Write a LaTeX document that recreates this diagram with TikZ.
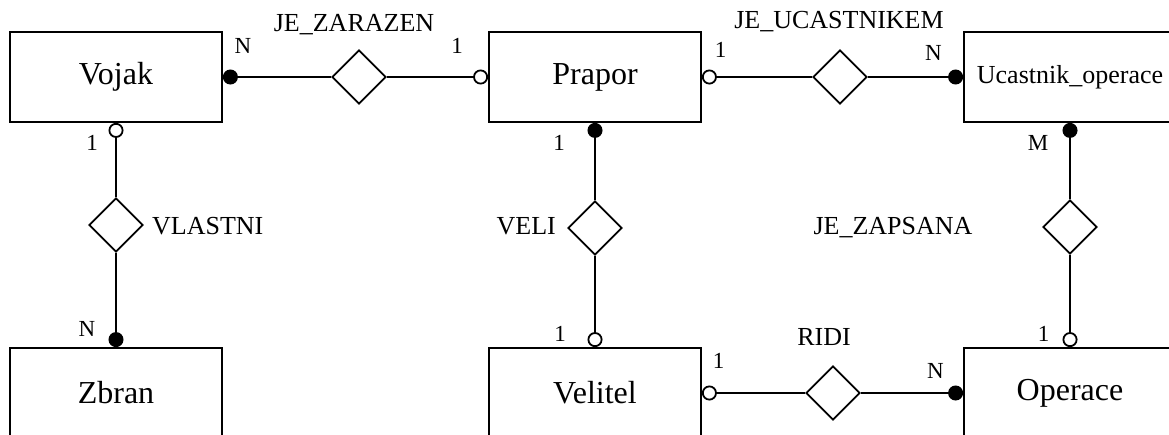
\documentclass[tikz,border=0pt]{standalone}
\usepackage{fontspec}
\setmainfont{Liberation Serif}
\usetikzlibrary{shapes.geometric,arrows.meta}
\tikzset{
  entity/.style={draw, line width=1.8pt, minimum width=212pt, minimum height=90pt, inner sep=0pt, font=\fontsize{32}{38}\selectfont},
  relship/.style={draw, fill=white, diamond, aspect=1, minimum size=54pt, inner sep=0pt, line width=1.8pt},
  rellabel/.style={anchor=base, inner sep=0pt, font=\fontsize{26}{31}\selectfont},
  card/.style={anchor=base, inner sep=0pt, font=\fontsize{23}{27}\selectfont},
  conn/.style={line width=1.8pt},
  many/.style={conn, -{Circle[length=15pt]}},
  one/.style={conn, -{Circle[open,length=15pt]}},
}
\begin{document}
\begin{tikzpicture}[x=1pt,y=-1pt]
\useasboundingbox (0,0) rectangle (1169,434);
\fill[white] (0,0) rectangle (1169,434);
\clip (0,0) rectangle (1169,434);
% entities
\node[entity] (vojak) at (116,77) {Vojak};
\node[entity, font=\fontsize{26}{31}\selectfont] (ucastnik) at (1070,77) {Ucastnik\_operace};
\node[entity] (prapor) at (595,77) {Prapor};
\node[entity] (zbran) at (116,393) {Zbran};
\node[entity] (velitel) at (595,393) {Velitel};
\node[entity] (operace) at (1070,393) {Operace};
% relationships
\node[relship] (zar) at (359,77) {};
\node[relship] (ucast) at (840,77) {};
\node[relship] (vlastni) at (116,225) {};
\node[relship] (veli) at (595,228) {};
\node[relship] (zapsana) at (1070,227) {};
\node[relship] (ridi) at (833,393) {};
% connectors
\draw[many] (zar) -- (vojak);
\draw[one] (zar) -- (prapor);
\draw[one] (ucast) -- (prapor);
\draw[many] (ucast) -- (ucastnik);
\draw[one] (vlastni) -- (vojak);
\draw[many] (vlastni) -- (zbran);
\draw[many] (veli) -- (prapor);
\draw[one] (veli) -- (velitel);
\draw[many] (zapsana) -- (ucastnik);
\draw[one] (zapsana) -- (operace);
\draw[one] (ridi) -- (velitel);
\draw[many] (ridi) -- (operace);
% relationship labels
\node[rellabel] (lzar) at (354,31.5) {JE\_ZARAZEN};
\node[rellabel] (lucast) at (839,28.5) {JE\_UCASTNIKEM};
\node[rellabel, anchor=base west] (lvlastni) at (152,234) {VLASTNI};
\node[rellabel, anchor=base east] (lveli) at (556,234) {VELI};
\node[rellabel] (lzapsana) at (893,234) {JE\_ZAPSANA};
\node[rellabel] (lridi) at (824,345) {RIDI};
% cardinalities
\node[card] (c1) at (243,53) {N};
\node[card] (c2) at (457,53) {1};
\node[card] (c3) at (720.5,57) {1};
\node[card] (c4) at (933.5,60) {N};
\node[card] (c5) at (92,150) {1};
\node[card] (c6) at (87,336) {N};
\node[card] (c7) at (559,150) {1};
\node[card] (c8) at (560,341) {1};
\node[card] (c9) at (1038,150) {M};
\node[card] (c10) at (1043.5,341) {1};
\node[card] (c11) at (718.5,368) {1};
\node[card] (c12) at (935.5,378) {N};
\end{tikzpicture}
\end{document}
